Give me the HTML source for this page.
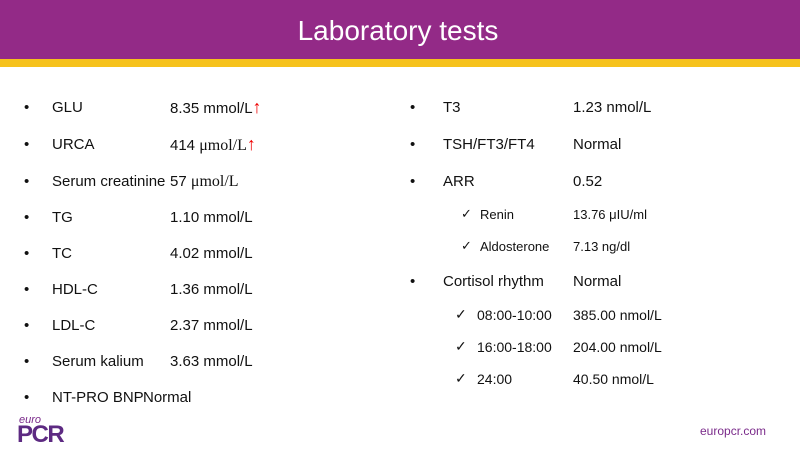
<!DOCTYPE html>
<html><head><meta charset="utf-8"><style>
body{margin:0;width:800px;height:450px;overflow:hidden;background:#fff;font-family:"Liberation Sans",sans-serif;color:#111;position:relative}
.t{position:absolute;white-space:nowrap;font-size:15px;line-height:18px}
.s{font-size:13px}
.m{font-size:14px}
.ser{font-family:"Liberation Serif","Noto Serif CJK SC",serif;font-size:16px}
.up{color:#e00;font-weight:bold;font-size:18px;line-height:16px}
</style></head><body>
<div style="position:absolute;left:0;top:0;width:800px;height:59px;background:#932a87"></div>
<div style="position:absolute;left:0;top:59px;width:800px;height:8px;background:#f6c21c"></div>
<div style="position:absolute;left:0;top:14px;width:796px;text-align:center;color:#fff;font-size:28px;line-height:34px">Laboratory tests</div>

<div>
<span class="t" style="left:24px;top:99px">•</span><span class="t" style="left:52px;top:99px">GLU</span><span class="t" style="left:170px;top:99px">8.35 mmol/L<span class="up">↑</span></span>
<span class="t" style="left:24px;top:136px">•</span><span class="t" style="left:52px;top:136px">URCA</span><span class="t" style="left:170px;top:136px">414 <span class="ser">μmol/L</span><span class="up">↑</span></span>
<span class="t" style="left:24px;top:173px">•</span><span class="t" style="left:52px;top:173px">Serum creatinine</span><span class="t" style="left:170px;top:173px">57 <span class="ser">μmol/L</span></span>
<span class="t" style="left:24px;top:209px">•</span><span class="t" style="left:52px;top:209px">TG</span><span class="t" style="left:170px;top:209px">1.10 mmol/L</span>
<span class="t" style="left:24px;top:245px">•</span><span class="t" style="left:52px;top:245px">TC</span><span class="t" style="left:170px;top:245px">4.02 mmol/L</span>
<span class="t" style="left:24px;top:281px">•</span><span class="t" style="left:52px;top:281px">HDL-C</span><span class="t" style="left:170px;top:281px">1.36 mmol/L</span>
<span class="t" style="left:24px;top:317px">•</span><span class="t" style="left:52px;top:317px">LDL-C</span><span class="t" style="left:170px;top:317px">2.37 mmol/L</span>
<span class="t" style="left:24px;top:353px">•</span><span class="t" style="left:52px;top:353px">Serum kalium</span><span class="t" style="left:170px;top:353px">3.63 mmol/L</span>
<span class="t" style="left:24px;top:389px">•</span><span class="t" style="left:52px;top:389px">NT-PRO BNP</span><span class="t" style="left:143px;top:389px">Normal</span>
</div>

<div>
<span class="t" style="left:410px;top:99px">•</span><span class="t" style="left:443px;top:99px">T3</span><span class="t" style="left:573px;top:99px">1.23 nmol/L</span>
<span class="t" style="left:410px;top:136px">•</span><span class="t" style="left:443px;top:136px">TSH/FT3/FT4</span><span class="t" style="left:573px;top:136px">Normal</span>
<span class="t" style="left:410px;top:173px">•</span><span class="t" style="left:443px;top:173px">ARR</span><span class="t" style="left:573px;top:173px">0.52</span>
<span class="t s" style="left:461px;top:205px">✓</span><span class="t s" style="left:480px;top:206px">Renin</span><span class="t s" style="left:573px;top:206px">13.76 μIU/ml</span>
<span class="t s" style="left:461px;top:237px">✓</span><span class="t s" style="left:480px;top:238px">Aldosterone</span><span class="t s" style="left:573px;top:238px">7.13 ng/dl</span>
<span class="t" style="left:410px;top:273px">•</span><span class="t" style="left:443px;top:273px">Cortisol rhythm</span><span class="t" style="left:573px;top:273px">Normal</span>
<span class="t m" style="left:455px;top:305px">✓</span><span class="t m" style="left:477px;top:306px">08:00-10:00</span><span class="t m" style="left:573px;top:306px">385.00 nmol/L</span>
<span class="t m" style="left:455px;top:337px">✓</span><span class="t m" style="left:477px;top:338px">16:00-18:00</span><span class="t m" style="left:573px;top:338px">204.00 nmol/L</span>
<span class="t m" style="left:455px;top:369px">✓</span><span class="t m" style="left:477px;top:370px">24:00</span><span class="t m" style="left:573px;top:370px">40.50 nmol/L</span>
</div>

<div>
<span style="position:absolute;left:19px;top:414px;font-size:11px;font-style:italic;color:#7a2a8a">euro</span>
<span style="position:absolute;left:17px;top:424px;font-size:24px;font-weight:bold;color:#5d2a82;letter-spacing:-1.5px;line-height:22px">PCR</span>
</div>
<span style="position:absolute;left:700px;top:424px;font-size:12px;color:#7a2a8a">europcr.com</span>
</body></html>
